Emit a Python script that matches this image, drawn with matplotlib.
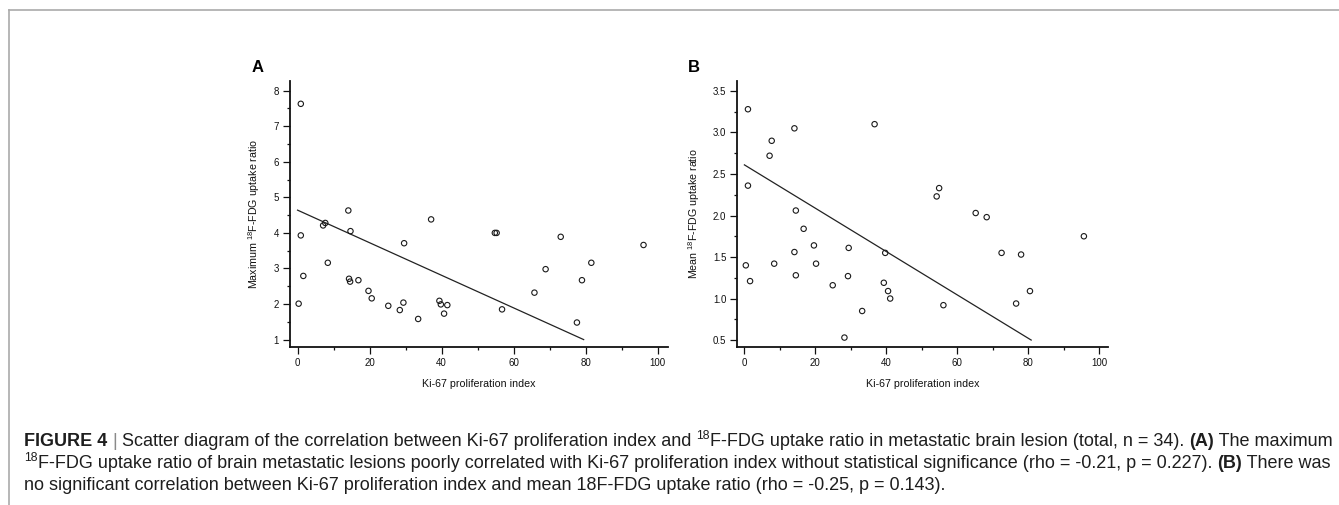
import matplotlib
matplotlib.use("Agg")
import matplotlib.pyplot as plt
from matplotlib.lines import Line2D
from matplotlib.ticker import MultipleLocator
from matplotlib.transforms import IdentityTransform
import numpy as np

# ── Data ─────────────────────────────────────────────────────────────
ki67_a = [0.9, 0.9, 1.6, 0.3, 7.1, 7.7, 8.4, 14.1, 14.7, 14.3, 14.6, 16.9,
          19.7, 20.6, 25.2, 28.4, 29.4, 29.6, 33.5, 37.1, 39.4, 39.8, 40.7,
          41.6, 54.8, 55.3, 56.8, 65.8, 68.9, 73.1, 77.6, 79.0, 81.6, 96.1]
suv_max = [7.63, 3.93, 2.79, 2.01, 4.21, 4.28, 3.16, 4.63, 4.05, 2.71, 2.63,
           2.67, 2.37, 2.16, 1.95, 1.83, 2.04, 3.71, 1.58, 4.38, 2.09, 1.99,
           1.73, 1.97, 4.00, 4.00, 1.85, 2.32, 2.98, 3.89, 1.48, 2.67, 3.16,
           3.66]

ki67_b = [1.0, 1.0, 0.4, 1.6, 7.1, 7.7, 8.4, 14.1, 14.5, 14.1, 14.5, 16.7,
          19.6, 20.2, 24.9, 28.2, 29.4, 29.2, 33.2, 36.7, 39.3, 39.7, 40.5,
          41.1, 54.2, 54.9, 56.1, 65.2, 68.3, 72.5, 76.6, 78.0, 80.5, 95.7]
suv_mean = [3.28, 2.36, 1.40, 1.21, 2.72, 2.90, 1.42, 3.05, 2.06, 1.56, 1.28,
            1.84, 1.64, 1.42, 1.16, 0.53, 1.61, 1.27, 0.85, 3.10, 1.19, 1.55,
            1.09, 1.00, 2.23, 2.33, 0.92, 2.03, 1.98, 1.55, 0.94, 1.53, 1.09,
            1.75]

# fitted lines as drawn (intercept, slope); line stops at lowest y tick
fit_a = (4.64, -0.0458)
fit_b = (2.61, -0.0261)

x_label = "Ki-67 proliferation index"
y_label_a = "Maximum $^{18}$F-FDG uptake ratio"
y_label_b = "Mean $^{18}$F-FDG uptake ratio"

# caption as (text, style) segments: "n" normal, "b" bold, "s" superscript, "g" gray
caption_lines = [
    [("FIGURE 4", "b"), (" ", "n"), ("|", "g"),
     (" Scatter diagram of the correlation between Ki-67 proliferation index and ", "n"),
     ("18", "s"),
     ("F-FDG uptake ratio in metastatic brain lesion (total, n = 34). ", "n"),
     ("(A)", "b"), (" The maximum", "n")],
    [("18", "s"),
     ("F-FDG uptake ratio of brain metastatic lesions poorly correlated with Ki-67 "
      "proliferation index without statistical significance (rho = -0.21, p = 0.227). ", "n"),
     ("(B)", "b"), (" There was", "n")],
    [("no significant correlation between Ki-67 proliferation index and mean 18F-FDG "
      "uptake ratio (rho = -0.25, p = 0.143).", "n")],
]

plt.rcParams["font.family"] = ["Liberation Sans", "DejaVu Sans"]
plt.rcParams["mathtext.default"] = "regular"

W, H = 1339, 505
fig = plt.figure(figsize=(W / 100, H / 100), dpi=100)


def fx(px):
    return px / W


def fy(py):
    return 1 - py / H


def scatter_panel(rect, x, y, fit, ylabel, xlim, ylim, ymajor, yfloor, letter, letter_x):
    ax = fig.add_axes(rect)
    ax.scatter(x, y, s=15, facecolors="none", edgecolors="#1a1a1a", linewidths=0.8, zorder=3)
    b0, b1 = fit
    x_end = (yfloor - b0) / b1
    xs = np.array([0.0, x_end])
    ax.plot(xs, b0 + b1 * xs, color="#222222", lw=0.9)

    ax.set_xlim(*xlim)
    ax.set_ylim(*ylim)
    ax.xaxis.set_major_locator(MultipleLocator(20))
    ax.xaxis.set_minor_locator(MultipleLocator(10))
    ax.yaxis.set_major_locator(MultipleLocator(ymajor))
    ax.yaxis.set_minor_locator(MultipleLocator(ymajor / 2))
    if ymajor < 1:
        ax.yaxis.set_major_formatter(lambda v, p: f"{v:.1f}")

    for side in ["top", "right"]:
        ax.spines[side].set_visible(False)
    for side in ["left", "bottom"]:
        ax.spines[side].set_linewidth(1.3)
        ax.spines[side].set_color("#111111")
    ax.tick_params(which="major", direction="out", length=5, width=0.9,
                   labelsize=7, pad=3, colors="#111111")
    ax.tick_params(which="minor", direction="out", length=2.5, width=0.9, colors="#111111")

    ax.set_xlabel(x_label, fontsize=7.7, labelpad=8, color="#111111")
    ax.set_ylabel(ylabel, fontsize=7.7, labelpad=8, color="#111111")
    fig.text(letter_x, fy(67.5), letter, fontsize=12, fontweight="bold",
             ha="center", va="center")
    return ax


scatter_panel([fx(290), fy(346.7), fx(668) - fx(290), fy(80.7) - fy(346.7)],
              ki67_a, suv_max, fit_a, y_label_a,
              (-2.1, 102.9), (0.80, 8.28), 1, 1.0, "A", fx(257.5))
scatter_panel([fx(737.3), fy(346.7), fx(1108) - fx(737.3), fy(81) - fy(346.7)],
              ki67_b, suv_mean, fit_b, y_label_b,
              (-2.0, 102.5), (0.42, 3.62), 0.5, 0.5, "B", fx(694))

# ── Caption, laid out segment by segment ─────────────────────────────
renderer = fig.canvas.get_renderer()


def lay_line(segs, x0, base_px, size):
    x = x0
    placed = []
    for txt, style in segs:
        fs = size * 0.68 if style == "s" else size
        dy = size * 0.40 * 100 / 72 if style == "s" else 0
        t = fig.text(x, H - base_px + dy, txt, transform=IdentityTransform(),
                     fontsize=fs, fontweight="bold" if style == "b" else "normal",
                     color="#8a8a8a" if style == "g" else "#1e1e1e",
                     ha="left", va="baseline")
        x += t.get_window_extent(renderer).width
        placed.append(t)
    return x - x0, placed


# fit the first line to the width it takes in the reference
w, trial = lay_line(caption_lines[0], 24, 446, 10)
for t in trial:
    t.remove()
size = 10 * 1313 / w

for segs, b in zip(caption_lines, [446, 468, 490]):
    lay_line(segs, 24, b, size)

# gray frame around the figure
fig.add_artist(Line2D([fx(9), fx(9)], [0, fy(10)], color="#aaaaaa", lw=1.2))
fig.add_artist(Line2D([fx(9), 1], [fy(10), fy(10)], color="#aaaaaa", lw=1.2))

fig.savefig("out.png", dpi=100)
